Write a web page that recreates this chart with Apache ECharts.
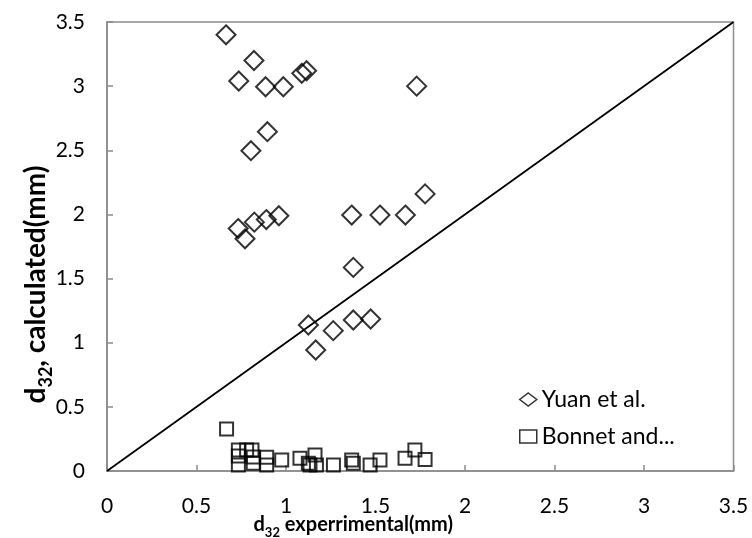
<!DOCTYPE html>
<html>
<head>
<meta charset="utf-8">
<script src="https://cdn.jsdelivr.net/npm/echarts@6/dist/echarts.min.js"></script>
<style>html,body{margin:0;padding:0;background:#fff}#c{width:752px;height:538px}</style>
</head>
<body>
<div id="c"></div>
<script>
var yuanX = [0.665,0.821,0.736,0.886,0.985,1.088,1.115,1.73,0.896,0.804,0.733,0.771,0.823,0.89,0.96,1.367,1.525,1.667,1.777,1.376,1.125,1.264,1.376,1.473,1.166];
var yuanY = [3.40,3.20,3.04,2.995,2.995,3.10,3.12,3.0,2.645,2.497,1.89,1.81,1.94,1.96,1.99,1.995,1.995,1.995,2.16,1.587,1.138,1.094,1.177,1.185,0.943];
var bonnetX = [0.668,0.734,0.734,0.734,0.78,0.81,0.817,0.817,0.892,0.892,0.976,1.078,1.125,1.134,1.162,1.17,1.265,1.367,1.376,1.47,1.525,1.665,1.72,1.777];
var bonnetY = [0.327,0.164,0.117,0.047,0.164,0.164,0.11,0.06,0.107,0.047,0.086,0.099,0.06,0.047,0.125,0.047,0.047,0.086,0.06,0.047,0.086,0.10,0.164,0.09];
var lineX = [0,3.5];
var lineY = [0,3.5];
var seriesNames = ['Yuan et al.','Bonnet and...'];

function zip(a,b){return a.map(function(v,i){return [v,b[i]];});}
var font = 'Lato, "Open Sans", sans-serif';
var chart = echarts.init(document.getElementById('c'));
chart.setOption({
  animation:false,
  grid:{left:107,right:18.5,top:22,bottom:67,containLabel:false,outerBoundsMode:'none',show:true,borderColor:'#8c8c8c',borderWidth:1.5,backgroundColor:'transparent'},
  xAxis:{type:'value',min:0,max:3.5,interval:0.5,nameMoveOverlap:false,
    axisLine:{show:true,lineStyle:{color:'#8c8c8c',width:1.5}},
    axisTick:{show:true,inside:true,length:6,lineStyle:{color:'#8c8c8c',width:1.5}},
    splitLine:{show:false},
    axisLabel:{color:'#000',fontSize:21,fontFamily:font,margin:25},
    name:'{b|d}{s|32}{b| experrimental(mm)}',nameLocation:'middle',nameGap:44,
    nameTextStyle:{fontSize:20,fontWeight:'bold',fontFamily:font,color:'#000',padding:[0,134,0,0],rich:{
      b:{fontSize:20,fontWeight:'bold',fontFamily:font,color:'#000',lineHeight:26,verticalAlign:'top'},
      s:{fontSize:13,fontWeight:'bold',fontFamily:font,color:'#000',lineHeight:26,verticalAlign:'top',padding:[11,0,0,0]}}}
  },
  yAxis:{type:'value',min:0,max:3.5,interval:0.5,nameMoveOverlap:false,
    axisLine:{show:true,lineStyle:{color:'#8c8c8c',width:1.5}},
    axisTick:{show:true,inside:true,length:6,lineStyle:{color:'#8c8c8c',width:1.5}},
    splitLine:{show:false},
    axisLabel:{color:'#000',fontSize:21,fontFamily:font,margin:22},
    name:'{b|d}{s|32}{b|, calculated(mm)}',nameLocation:'middle',nameGap:51,nameRotate:90,
    nameTextStyle:{fontSize:28,fontWeight:'bold',fontFamily:font,color:'#000',padding:[0,76,0,0],rich:{
      b:{fontSize:28,fontWeight:'bold',fontFamily:font,color:'#000',lineHeight:34,verticalAlign:'top'},
      s:{fontSize:18,fontWeight:'bold',fontFamily:font,color:'#000',lineHeight:34,verticalAlign:'top',padding:[15,0,0,0]}}}
  },
  legend:{orient:'vertical',left:514,top:383,itemWidth:17,itemHeight:13,itemGap:14,
    textStyle:{fontSize:23,fontFamily:font,color:'#000'},
    data:[
      {name:seriesNames[0],icon:'diamond',itemStyle:{color:'#fff',borderColor:'#000',borderWidth:1.5}},
      {name:seriesNames[1],icon:'rect',itemStyle:{color:'#fff',borderColor:'#000',borderWidth:1.5}}
    ]},
  series:[
    {type:'line',data:zip(lineX,lineY),symbol:'none',lineStyle:{color:'#000',width:1.8},silent:true,z:1},
    {name:seriesNames[0],type:'scatter',data:zip(yuanX,yuanY),symbol:'diamond',symbolSize:19,
      itemStyle:{color:'rgba(0,0,0,0)',borderColor:'#000',borderWidth:2},z:3},
    {name:seriesNames[1],type:'scatter',data:zip(bonnetX,bonnetY),symbol:'rect',symbolSize:13,
      itemStyle:{color:'rgba(0,0,0,0)',borderColor:'#000',borderWidth:2},z:3}
  ]
});
</script>
</body>
</html>
